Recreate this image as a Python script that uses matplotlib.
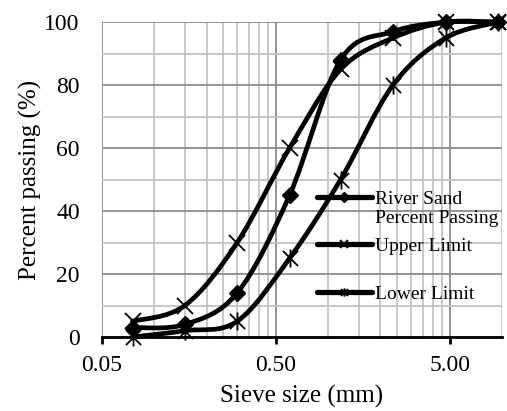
import numpy as np
import matplotlib
matplotlib.use("Agg")
import matplotlib.pyplot as plt
from matplotlib.path import Path
from matplotlib.patches import PathPatch
from matplotlib.lines import Line2D
from matplotlib.legend_handler import HandlerLine2D
from matplotlib.ticker import FixedLocator, NullFormatter

# sieve sizes (mm) and percent passing
sieve = [0.075, 0.15, 0.3, 0.6, 1.18, 2.36, 4.75, 9.5]
river_sand = [3, 4, 14, 45, 88, 97, 100, 100]
upper_limit = [5, 10, 30, 60, 85, 95, 100, 100]
lower_limit = [0, 2, 5, 25, 50, 80, 95, 100]

labels = ["River Sand\nPercent Passing", "Upper Limit\n", "Lower Limit\n"]
x_ticks = [0.05, 0.5, 5]
x_ticklabels = ["0.05", "0.50", "5.00"]

plt.rcParams["font.family"] = ["Liberation Serif", "DejaVu Serif"]

# Excel style star marker: an X with a vertical bar through it
star = Path([(-1, -1), (1, 1), (-1, 1), (1, -1), (0, -1.2), (0, 1.2)],
            [Path.MOVETO, Path.LINETO] * 3)


def smooth_path(xs, ys):
    # Excel-like smoothed line: cubic bezier segments in log10(x) space
    lx = np.log10(xs)
    y = np.asarray(ys, dtype=float)
    n = len(lx)
    verts = [(lx[0], y[0])]
    codes = [Path.MOVETO]
    for i in range(n - 1):
        p0 = max(i - 1, 0)
        p3 = min(i + 2, n - 1)
        c1 = (lx[i] + (lx[i + 1] - lx[p0]) / 6, y[i] + (y[i + 1] - y[p0]) / 6)
        c2 = (lx[i + 1] - (lx[p3] - lx[i]) / 6, y[i + 1] - (y[p3] - y[i]) / 6)
        verts += [c1, c2, (lx[i + 1], y[i + 1])]
        codes += [Path.CURVE4] * 3
    verts = np.array(verts)
    verts[:, 0] = 10 ** verts[:, 0]
    return Path(verts, codes)


class TopLineHandler(HandlerLine2D):
    # put the legend line next to the first text line
    def create_artists(self, legend, orig_handle, xdescent, ydescent,
                       width, height, fontsize, trans):
        arts = super().create_artists(legend, orig_handle, xdescent, ydescent,
                                      width, height, fontsize, trans)
        for a in arts:
            a.set_ydata(np.asarray(a.get_ydata()) + 0.6 * fontsize)
        return arts


fig = plt.figure(figsize=(5.07, 4.11), dpi=100)
ax = fig.add_axes([0.201, 0.180, 0.789, 0.766])

series = [
    (river_sand, dict(marker="D", ms=8, mew=1)),
    (upper_limit, dict(marker="x", ms=12, mew=1.3)),
    (lower_limit, dict(marker=star, ms=13, mew=1.3)),
]
for vals, mk in series:
    ax.add_patch(PathPatch(smooth_path(sieve, vals), fill=False,
                           ec="black", lw=3.4, zorder=3, capstyle="round",
                           clip_on=False))
    ax.plot(sieve, vals, ls="none", color="black", zorder=4, clip_on=False, **mk)

ax.set_xscale("log")
ax.set_xlim(0.05, 10)
ax.set_ylim(0, 100)

minor_x = [0.05 * k for k in range(2, 10)] + [0.5 * k for k in range(2, 10)] + [10]
ax.xaxis.set_major_locator(FixedLocator(x_ticks))
ax.xaxis.set_minor_locator(FixedLocator(minor_x))
ax.set_xticklabels(x_ticklabels)
ax.xaxis.set_minor_formatter(NullFormatter())
ax.yaxis.set_major_locator(FixedLocator(range(0, 101, 20)))
ax.yaxis.set_minor_locator(FixedLocator(range(10, 100, 20)))

ax.grid(True, which="major", color="#8c8c8c", lw=1.3, zorder=0)
ax.grid(True, which="minor", color="#c4c4c4", lw=1.3, zorder=0)
ax.set_axisbelow(True)

for s in ["left", "top", "right"]:
    ax.spines[s].set_visible(False)
ax.spines["bottom"].set_linewidth(2)
ax.spines["bottom"].set_zorder(2)

ax.tick_params(axis="x", which="major", direction="out", length=5, width=2,
               pad=8, labelsize=17)
ax.tick_params(axis="x", which="minor", length=0)
ax.tick_params(axis="y", which="both", length=0, pad=16, labelsize=17)

ax.set_xlabel("Sieve size (mm)", fontsize=18, labelpad=6)
ax.set_ylabel("Percent passing (%)", fontsize=18, labelpad=2)

handles = [
    Line2D([], [], color="black", lw=3.8, marker="D", ms=5,
           solid_capstyle="round"),
    Line2D([], [], color="black", lw=3.8, marker="x", ms=6, mew=1.3,
           solid_capstyle="round"),
    Line2D([], [], color="black", lw=3.8, marker=star, ms=6, mew=1.3,
           solid_capstyle="round"),
]
ax.legend(handles, labels, loc="upper left", bbox_to_anchor=(0.538, 0.465),
          frameon=False, fontsize=14, handlelength=2.8, handletextpad=0.2,
          labelspacing=0.56, borderpad=0, borderaxespad=0, numpoints=1,
          handler_map={Line2D: TopLineHandler()})

fig.savefig("out.png", dpi=100)
